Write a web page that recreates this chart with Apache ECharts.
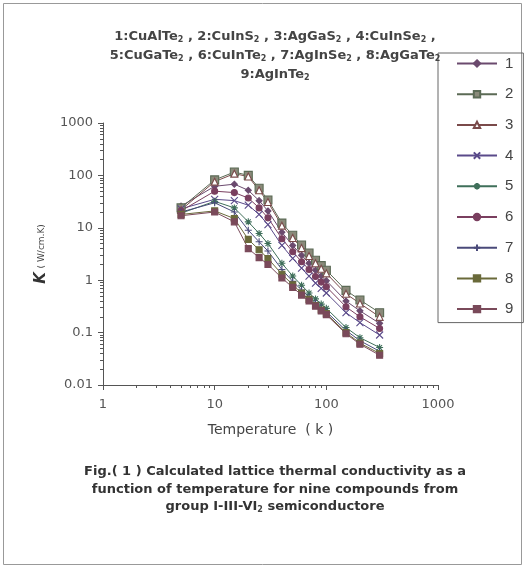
<!DOCTYPE html>
<html>
<head>
<meta charset="utf-8">
<script src="https://cdn.jsdelivr.net/npm/echarts@6/dist/echarts.min.js"></script>
<style>
  html, body { margin: 0; padding: 0; background: #fff; }
  #chart { width: 526px; height: 567px; }
</style>
</head>
<body>
<div id="chart"></div>
<script>
// temperatures (K) used for every compound
const temps = [5, 10, 15, 20, 25, 30, 40, 50, 60, 70, 80, 90, 100, 150, 200, 300]

// lattice thermal conductivity (W/cm.K)
const k1 = [26, 62, 68, 52, 33, 21, 8.2, 4.6, 3.0, 2.1, 1.55, 1.2, 0.98, 0.4, 0.26, 0.15]
const k2 = [24, 82, 116, 100, 57, 34, 12.3, 7.2, 4.7, 3.3, 2.4, 1.9, 1.55, 0.64, 0.42, 0.24]
const k3 = [22, 76, 108, 95, 52, 31, 11, 6.4, 4.1, 2.9, 2.1, 1.65, 1.35, 0.55, 0.36, 0.2]
const k4 = [23, 35, 33, 27, 18, 11.5, 4.6, 2.6, 1.7, 1.2, 0.88, 0.7, 0.57, 0.24, 0.155, 0.09]
const k5 = [19, 32, 24, 13, 7.8, 5, 2.1, 1.2, 0.8, 0.57, 0.44, 0.35, 0.29, 0.125, 0.08, 0.052]
const k6 = [21, 50, 47, 37, 24, 15.5, 6.2, 3.5, 2.25, 1.6, 1.18, 0.92, 0.75, 0.31, 0.2, 0.12]
const k7 = [20, 30, 20, 9, 5.4, 3.6, 1.6, 0.95, 0.65, 0.48, 0.37, 0.3, 0.25, 0.11, 0.07, 0.044]
const k8 = [18, 21, 15, 6, 3.8, 2.6, 1.3, 0.82, 0.57, 0.43, 0.33, 0.27, 0.23, 0.1, 0.063, 0.04]
const k9 = [17, 20, 13, 4, 2.7, 2.0, 1.1, 0.73, 0.52, 0.4, 0.32, 0.26, 0.22, 0.095, 0.06, 0.037]

const seriesNames = ['1', '2', '3', '4', '5', '6', '7', '8', '9']
const seriesValues = [k1, k2, k3, k4, k5, k6, k7, k8, k9]

const titleLines = [
  '1:CuAlTe{s|2} , 2:CuInS{s|2} , 3:AgGaS{s|2} , 4:CuInSe{s|2} ,',
  '5:CuGaTe{s|2} , 6:CuInTe{s|2} , 7:AgInSe{s|2} , 8:AgGaTe{s|2}',
  '9:AgInTe{s|2}'
]
const captionLines = [
  'Fig.( 1 ) Calculated lattice thermal conductivity as a',
  'function of temperature for nine compounds from',
  'group I-III-VI{s|2} semiconductore'
]

// marker look per compound (Excel style)
const markers = [
  { symbol: 'diamond', size: 6, color: '#6b4a6e', fill: '#6b4a6e' },
  { symbol: 'rect', size: 8, color: '#5b6a55', fill: '#8a8a7a' },
  { symbol: 'triangle', size: 7, color: '#7a4a4a', fill: '#fff' },
  { symbol: 'path://M0,0L10,10M10,0L0,10', size: 7, color: '#5a4a8a', fill: 'none' },
  { symbol: 'path://M0,5L10,5M5,0L5,10M1.5,1.5L8.5,8.5M8.5,1.5L1.5,8.5', size: 7, color: '#3f6f5a', fill: 'none' },
  { symbol: 'circle', size: 6, color: '#7a3f5f', fill: '#7a3f5f' },
  { symbol: 'path://M5,0L5,10M0,5L10,5', size: 7, color: '#4a4a7a', fill: 'none' },
  { symbol: 'path://M0,4L10,4L10,6L0,6Z', size: 6, color: '#6a6a3a', fill: '#6a6a3a' },
  { symbol: 'path://M0,4L10,4L10,6L0,6Z', size: 6, color: '#7a4a5a', fill: '#7a4a5a' }
]

const textColor = '#444'
const font = '"DejaVu Sans", Arial, sans-serif'

function fmtLog(v) {
  return String(+(+v).toPrecision(3))
}

function buildSeries() {
  return seriesNames.map((name, i) => {
    const m = markers[i]
    return {
      name: name,
      type: 'line',
      data: temps.map((t, j) => [t, seriesValues[i][j]]),
      symbol: m.symbol,
      symbolSize: m.size,
      showAllSymbol: true,
      lineStyle: { color: m.color, width: 1 },
      itemStyle: { color: m.fill, borderColor: m.color, borderWidth: 1.1 },
      emphasis: { disabled: true },
      animation: false
    }
  })
}

const subRich = {
  s: { fontSize: 8, fontWeight: 'bold', fontFamily: font, color: textColor, padding: [6, 0, 0, 0] }
}

const option = {
  backgroundColor: '#fff',
  textStyle: { fontFamily: font },
  title: [
    {
      text: titleLines.join('\n'),
      left: 270,
      top: 22,
      textAlign: 'center',
      textStyle: {
        fontSize: 13, fontWeight: 'bold', color: textColor, lineHeight: 19, fontFamily: font,
        rich: subRich
      }
    },
    {
      text: captionLines.join('\n'),
      left: 270,
      top: 458,
      textAlign: 'center',
      textStyle: {
        fontSize: 13, fontWeight: 'bold', color: '#333', lineHeight: 17.5, fontFamily: font,
        rich: subRich
      }
    }
  ],
  legend: {
    orient: 'vertical',
    left: 438,
    top: 53,
    width: 84,
    padding: [2, 10, 5, 18],
    borderColor: '#666',
    borderWidth: 1,
    itemWidth: 40,
    itemHeight: 8,
    itemGap: 13.7,
    data: seriesNames,
    textStyle: {
      fontSize: 15, lineHeight: 17, color: textColor,
      fontFamily: 'Arial, "Liberation Sans", sans-serif', padding: [0, 0, 0, 3]
    }
  },
  grid: {
    left: 103,
    right: 88,
    top: 123,
    bottom: 182
  },
  xAxis: {
    type: 'log',
    logBase: 10,
    min: 1,
    max: 1000,
    name: 'Temperature  ( k )',
    nameLocation: 'middle',
    nameGap: 38,
    nameTextStyle: { fontSize: 14, color: textColor, fontFamily: font },
    axisLine: { lineStyle: { color: '#555', width: 1 } },
    axisTick: { show: true, length: 5, lineStyle: { color: '#555' } },
    minorTick: { show: true, splitNumber: 9, length: 3, lineStyle: { color: '#555' } },
    splitLine: { show: false },
    axisLabel: { fontSize: 13, color: '#555', margin: 13, fontFamily: font, formatter: fmtLog }
  },
  yAxis: {
    type: 'log',
    logBase: 10,
    min: 0.01,
    max: 1000,
    name: '{k|K} {u|( W/cm.K)}',
    nameLocation: 'middle',
    nameRotate: 90,
    nameGap: 52,
    nameTextStyle: {
      rich: {
        k: { fontSize: 15, fontStyle: 'italic', fontWeight: 'bold', color: '#333', fontFamily: font },
        u: { fontSize: 9, color: '#444', fontFamily: font }
      }
    },
    axisLine: { show: true, lineStyle: { color: '#555', width: 1 } },
    axisTick: { show: true, length: 5, lineStyle: { color: '#555' } },
    minorTick: { show: true, splitNumber: 9, length: 3, lineStyle: { color: '#555' } },
    splitLine: { show: false },
    axisLabel: { fontSize: 13, color: '#555', margin: 10, fontFamily: font, formatter: fmtLog }
  },
  graphic: [
    {
      type: 'rect',
      shape: { x: 3.5, y: 3.5, width: 518, height: 561 },
      style: { fill: 'none', stroke: '#999', lineWidth: 1 },
      silent: true
    }
  ],
  series: buildSeries()
}

const chart = echarts.init(document.getElementById('chart'), null, { renderer: 'canvas' })
chart.setOption(option)
</script>
</body>
</html>
